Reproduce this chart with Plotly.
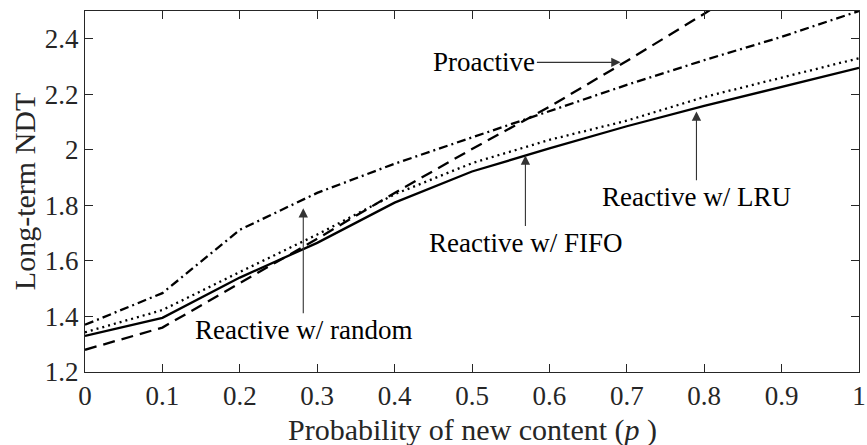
import plotly.graph_objects as go

p = [0, 0.1, 0.2, 0.3, 0.4, 0.5, 0.6, 0.7, 0.8, 0.9, 1.0]
reactive_lru = [1.33, 1.395, 1.54, 1.665, 1.81, 1.922, 2.005, 2.085, 2.158, 2.226, 2.295]
reactive_fifo = [1.343, 1.423, 1.56, 1.695, 1.84, 1.952, 2.036, 2.105, 2.19, 2.26, 2.33]
reactive_random = [1.37, 1.484, 1.712, 1.845, 1.95, 2.045, 2.14, 2.234, 2.323, 2.407, 2.50]
proactive = [1.28, 1.36, 1.52, 1.68, 1.845, 2.003, 2.155, 2.32, 2.49, 2.67, 2.85]

xticks = [0, 0.1, 0.2, 0.3, 0.4, 0.5, 0.6, 0.7, 0.8, 0.9, 1]
xticklabels = ["0", "0.1", "0.2", "0.3", "0.4", "0.5", "0.6", "0.7", "0.8", "0.9", "1"]
yticks = [1.2, 1.4, 1.6, 1.8, 2.0, 2.2, 2.4]
yticklabels = ["1.2", "1.4", "1.6", "1.8", "2", "2.2", "2.4"]

FONT = "Liberation Serif, Times New Roman, serif"
AX = "#262626"

fig = go.Figure()
series = [
    ("Reactive w/ LRU", reactive_lru, "solid"),
    ("Reactive w/ FIFO", reactive_fifo, "2px,4px"),
    ("Reactive w/ random", reactive_random, "9px,4px,2px,4px"),
    ("Proactive", proactive, "12px,7px"),
]
for name, ys, dash in series:
    fig.add_trace(go.Scatter(x=p, y=ys, mode="lines", name=name,
                             line=dict(color="black", width=2.3, dash=dash),
                             showlegend=False, cliponaxis=True,
                             hoverinfo="skip"))

# annotations: (text, tip_x, tip_y, text_x, text_y)
annots = [
    ("Proactive", 0.692, 2.315, 0.516, 2.315),
    ("Reactive w/ random", 0.282, 1.79, 0.282, 1.352),
    ("Reactive w/ FIFO", 0.569, 1.98, 0.569, 1.666),
    ("Reactive w/ LRU", 0.79, 2.138, 0.79, 1.831),
]
for text, tx, ty, lx, ly in annots:
    fig.add_annotation(x=tx, y=ty, ax=lx, ay=ly, axref="x", ayref="y",
                       xref="x", yref="y", text=text, showarrow=True,
                       arrowhead=2, arrowsize=1.7, arrowwidth=1.1,
                       arrowcolor="#333333",
                       font=dict(family=FONT, size=27, color="black"))

# axis titles
fig.add_annotation(x=0.5, y=-0.16, xref="paper", yref="paper",
                   text="Probability of new content (<i>p</i> )",
                   showarrow=False, xanchor="center", yanchor="middle",
                   font=dict(family=FONT, size=30, color=AX))
fig.add_annotation(x=-0.078, y=0.5, xref="paper", yref="paper",
                   text="Long-term NDT", textangle=-90,
                   showarrow=False, xanchor="center", yanchor="middle",
                   font=dict(family=FONT, size=30, color=AX))

fig.update_layout(
    width=867, height=445,
    margin=dict(l=85, r=8, t=11, b=73),
    paper_bgcolor="white", plot_bgcolor="white",
    font=dict(family=FONT, color=AX),
)
fig.update_xaxes(range=[0, 1], tickvals=xticks, ticktext=xticklabels,
                 showline=True, mirror="ticks", linecolor=AX, linewidth=1,
                 ticks="inside", ticklen=8, tickcolor=AX, showgrid=False,
                 zeroline=False, tickfont=dict(size=27, color=AX),
                 automargin=False)
fig.update_yaxes(range=[1.2, 2.5], tickvals=yticks, ticktext=yticklabels,
                 showline=True, mirror="ticks", linecolor=AX, linewidth=1,
                 ticks="inside", ticklen=8, tickcolor=AX, showgrid=False,
                 zeroline=False, tickfont=dict(size=27, color=AX),
                 automargin=False)

fig.write_html("out.html", config={"displayModeBar": False},
               post_script="document.body.style.margin='0';document.body.style.overflow='hidden';")
